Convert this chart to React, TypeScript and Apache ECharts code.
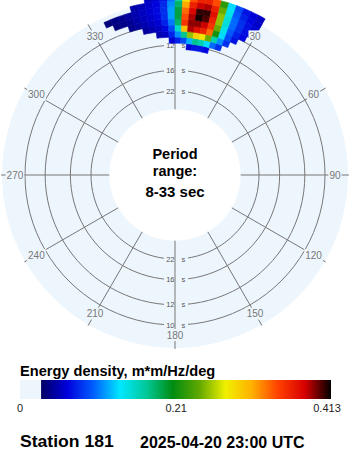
import React, { useEffect, useRef } from "react";
import * as echarts from "echarts";

// ---- data ----
const DIRECTIONS = [
  -23.75, -21.25, -18.75, -16.25, -13.75, -11.25, -8.75, -6.25, -3.75, -1.25, 1.25,
  3.75, 6.25, 8.75, 11.25, 13.75, 16.25, 18.75, 21.25, 23.75, 26.25, 28.75,
];
const DIR_WIDTH = 2.5;
const FREQUENCIES = [0.0825, 0.0875, 0.0925, 0.0975, 0.1025, 0.1075, 0.1125, 0.1175, 0.1225];
const FREQ_WIDTH = 0.005;
// rows: frequencies (ascending), columns: directions
const ENERGY = [
  [0, 0, 0, 0, 0, 0, 0, 0, 0, 0, 0, 0, 0.06, 0.07, 0.07, 0.065, 0, 0, 0, 0, 0, 0],
  [0, 0, 0, 0, 0, 0, 0, 0, 0, 0.06, 0.075, 0.09, 0.12, 0.17, 0.16, 0.13, 0.1, 0.08, 0, 0, 0, 0],
  [0, 0, 0, 0, 0, 0, 0, 0.05, 0.055, 0.075, 0.11, 0.17, 0.25, 0.29, 0.28, 0.24, 0.16, 0.11, 0.08, 0, 0, 0],
  [0, 0, 0, 0, 0, 0.045, 0.05, 0.055, 0.065, 0.09, 0.15, 0.3, 0.385, 0.37, 0.36, 0.33, 0.21, 0.13, 0.09, 0.07, 0, 0],
  [0, 0, 0, 0.04, 0.045, 0.05, 0.055, 0.06, 0.075, 0.105, 0.18, 0.35, 0.39, 0.39, 0.38, 0.35, 0.24, 0.14, 0.095, 0.075, 0.065, 0],
  [0, 0.035, 0.038, 0.043, 0.048, 0.053, 0.058, 0.065, 0.08, 0.115, 0.19, 0.34, 0.385, 0.41, 0.4, 0.36, 0.25, 0.145, 0.1, 0.08, 0.068, 0.06],
  [0.035, 0.037, 0.04, 0.045, 0.05, 0.055, 0.06, 0.066, 0.08, 0.115, 0.19, 0.33, 0.375, 0.405, 0.405, 0.37, 0.25, 0.145, 0.1, 0.08, 0.068, 0.06],
  [0, 0, 0, 0, 0.048, 0.052, 0.058, 0.064, 0.078, 0.11, 0.18, 0.31, 0.36, 0.38, 0.385, 0.36, 0.24, 0.14, 0.095, 0.075, 0.065, 0.058],
  [0, 0, 0, 0, 0, 0, 0.055, 0.06, 0.072, 0.1, 0.16, 0.28, 0.34, 0.36, 0.36, 0.34, 0.22, 0.13, 0.09, 0.07, 0.062, 0.056],
];
const RING_PERIODS = [10, 12, 16, 22];
const PERIOD_MIN = 8;
const PERIOD_MAX = 33;
const ANGLE_TICKS = [0, 30, 60, 90, 120, 150, 180, 210, 240, 270, 300, 330];
const ANGLE_LABELS = [30, 60, 90, 120, 150, 180, 210, 240, 270, 300, 330];
const COLORBAR_TICK_VALUES = [0, 0.21, 0.413];
const COLORBAR_TICK_LABELS = ["0", "0.21", "0.413"];
const ENERGY_MAX = 0.413;
const ENERGY_ZERO_LIMIT = 0.028;
const STATION = "Station 181";
const TIMESTAMP = "2025-04-20 23:00 UTC";

// ---- style / layout ----
const FONT = "'Liberation Sans', Arial, Helvetica, sans-serif";
const BG = "#eef6fd";
const GRID = "#777777";
const CX = 175;
const CY = 175;
const F_MAX = 0.125;
const R_ZERO = 29;
const R_MAX = 180.25;
const BG_OUTER_F = 0.119;
const LINE_END_F = 0.1198;
const LABEL_F = 0.1083;
const COLORS = [
  "#000064", "#0000dc", "#0060ff", "#00e8ff", "#00c898", "#008c10",
  "#60a800", "#f0f000", "#ffb000", "#ff4000", "#d80000", "#000000",
];
const BAR_X0 = 20;
const BAR_X1 = 331;
const BAR_Y = 380;
const BAR_H = 19;

function dist(p: number[], cs: any) {
  return Math.hypot(p[0] - cs.cx, p[1] - cs.cy);
}
function ang(p: number[], cs: any) {
  return Math.atan2(p[1] - cs.cy, p[0] - cs.cx);
}
const wrap = (d: number) => ((d % 360) + 360) % 360;

export default function App() {
  const ref = useRef<HTMLDivElement>(null);
  useEffect(() => {
    if (!ref.current) return;
    const chart = echarts.init(ref.current, undefined, { renderer: "svg" });

    const blobData: number[][] = [];
    FREQUENCIES.forEach((f, i) => {
      DIRECTIONS.forEach((d, j) => {
        const e = ENERGY[i][j];
        if (e > 0) blobData.push([f, d, e]);
      });
    });

    const zeroBarEnd = BAR_X0 + (ENERGY_ZERO_LIMIT / ENERGY_MAX) * (BAR_X1 - BAR_X0);
    const stops = COLORS.map((c, i) => ({ offset: i / (COLORS.length - 1), color: c }));

    const option: any = {
      animation: false,
      polar: { center: [CX, CY], radius: [R_ZERO, R_MAX] },
      radiusAxis: {
        type: "value", min: 0, max: F_MAX,
        axisLine: { show: false }, axisTick: { show: false },
        axisLabel: { show: false }, splitLine: { show: false },
      },
      angleAxis: {
        type: "value", min: 0, max: 360, startAngle: 90, clockwise: true,
        axisLine: { show: false }, axisTick: { show: false },
        axisLabel: { show: false }, splitLine: { show: false },
      },
      visualMap: {
        type: "continuous", show: false, seriesIndex: 4, dimension: 2,
        min: ENERGY_ZERO_LIMIT, max: ENERGY_MAX,
        inRange: { color: COLORS },
      },
      graphic: [
        {
          type: "text", x: CX, y: 162.5, z: 100,
          style: {
            text: "Period\nrange:", font: `bold 14.5px ${FONT}`, lineHeight: 17.5,
            fill: "#000", align: "center", verticalAlign: "middle",
          },
        },
        {
          type: "text", x: CX, y: 191, z: 100,
          style: { text: `${PERIOD_MIN}-${PERIOD_MAX} sec`, font: `bold 15px ${FONT}`, fill: "#000", align: "center", verticalAlign: "middle" },
        },
        {
          type: "text", x: 20, y: 378, z: 100,
          style: { text: "Energy density, m*m/Hz/deg", font: `bold 14.6px ${FONT}`, fill: "#000", align: "left", verticalAlign: "bottom" },
        },
        {
          type: "rect", z: 100, shape: { x: BAR_X0, y: BAR_Y, width: zeroBarEnd - BAR_X0, height: BAR_H },
          style: { fill: BG },
        },
        {
          type: "rect", z: 100, shape: { x: zeroBarEnd, y: BAR_Y, width: BAR_X1 - zeroBarEnd, height: BAR_H },
          style: { fill: new echarts.graphic.LinearGradient(0, 0, 1, 0, stops) },
        },
        ...COLORBAR_TICK_VALUES.map((v, i) => ({
          type: "text", z: 100,
          x: BAR_X0 + (v / ENERGY_MAX) * (BAR_X1 - 4 - BAR_X0),
          y: 407.5,
          style: { text: COLORBAR_TICK_LABELS[i], font: `11px ${FONT}`, fill: "#222", align: "center", verticalAlign: "middle" },
        })),
        {
          type: "text", x: 20, y: 450, z: 100, scaleX: 1.1,
          style: { text: STATION, font: `bold 16px ${FONT}`, fill: "#000", align: "left", verticalAlign: "bottom" },
        },
        {
          type: "text", x: 140, y: 450, z: 100,
          style: { text: TIMESTAMP, font: `bold 16px ${FONT}`, fill: "#000", align: "left", verticalAlign: "bottom" },
        },
      ],
      series: [
        {
          type: "custom", coordinateSystem: "polar", z: 1, silent: true,
          data: [[BG_OUTER_F, 0, 1 / PERIOD_MAX]],
          renderItem: (params: any, api: any) => {
            const cs = params.coordSys;
            const rOut = dist(api.coord([api.value(0), 0]), cs);
            const rIn = dist(api.coord([api.value(2), 0]), cs);
            return {
              type: "group",
              children: [
                { type: "circle", shape: { cx: cs.cx, cy: cs.cy, r: rOut }, style: { fill: BG } },
                { type: "circle", shape: { cx: cs.cx, cy: cs.cy, r: rIn }, style: { fill: "#ffffff" } },
              ],
            };
          },
        },
        {
          type: "custom", coordinateSystem: "polar", z: 2, silent: true,
          data: RING_PERIODS.map((p) => [1 / p, 0, p]),
          renderItem: (params: any, api: any) => {
            const cs = params.coordSys;
            const r = dist(api.coord([api.value(0), 0]), cs);
            return {
              type: "circle",
              shape: { cx: cs.cx, cy: cs.cy, r },
              style: { fill: "none", stroke: GRID, lineWidth: 1 },
            };
          },
        },
        {
          type: "custom", coordinateSystem: "polar", z: 3, silent: true,
          data: RING_PERIODS.flatMap((p) => [[1 / p, 0, p], [1 / p, 180, p]]),
          renderItem: (params: any, api: any) => {
            const pt = api.coord([api.value(0), api.value(1)]);
            const font = `7.5px ${FONT}`;
            return {
              type: "group",
              children: [
                { type: "rect", shape: { x: pt[0] - 11, y: pt[1] - 4, width: 24, height: 8 }, style: { fill: BG } },
                { type: "text", style: { text: String(api.value(2)), x: pt[0] - 0.5, y: pt[1], align: "right", verticalAlign: "middle", font, fill: "#555" } },
                { type: "text", style: { text: "s", x: pt[0] + 6.5, y: pt[1], align: "left", verticalAlign: "middle", font, fill: "#555" } },
              ],
            };
          },
        },
        {
          type: "custom", coordinateSystem: "polar", z: 4, silent: true,
          data: ANGLE_TICKS.map((a) => [1 / PERIOD_MAX, a]),
          renderItem: (params: any, api: any) => {
            const a = api.value(1);
            const p0 = api.coord([api.value(0), a]);
            const p1 = api.coord([LINE_END_F, a]);
            return {
              type: "line",
              shape: { x1: p0[0], y1: p0[1], x2: p1[0], y2: p1[1] },
              style: { stroke: GRID, lineWidth: 1 },
            };
          },
        },
        {
          type: "custom", coordinateSystem: "polar", z: 5, silent: true,
          data: blobData,
          renderItem: (params: any, api: any) => {
            const cs = params.coordSys;
            const f = api.value(0);
            const d = api.value(1);
            const r0 = dist(api.coord([f - FREQ_WIDTH / 2, wrap(d)]), cs);
            const r = dist(api.coord([f + FREQ_WIDTH / 2, wrap(d)]), cs);
            const sa = ang(api.coord([f, wrap(d - DIR_WIDTH / 2)]), cs);
            const ea = ang(api.coord([f, wrap(d + DIR_WIDTH / 2)]), cs);
            const color = api.visual("color");
            return {
              type: "sector",
              shape: { cx: cs.cx, cy: cs.cy, r0, r, startAngle: sa, endAngle: ea, clockwise: true },
              style: { fill: color, stroke: color, lineWidth: 0.6 },
            };
          },
        },
        {
          type: "custom", coordinateSystem: "polar", z: 6, silent: true,
          data: ANGLE_LABELS.map((a) => [LABEL_F, a]),
          renderItem: (params: any, api: any) => {
            const a = api.value(1);
            const pt = api.coord([api.value(0), a]);
            return {
              type: "text",
              style: {
                text: String(a), x: pt[0], y: pt[1], align: "center", verticalAlign: "middle",
                font: `10px ${FONT}`, fill: GRID, backgroundColor: BG, padding: [1, 1],
              },
            };
          },
        },
      ],
    };
    chart.setOption(option);
    return () => chart.dispose();
  }, []);
  return (
    <div
      ref={ref}
      style={{ position: "absolute", left: 0, top: 0, width: 350, height: 450, background: "#fff" }}
    />
  );
}
